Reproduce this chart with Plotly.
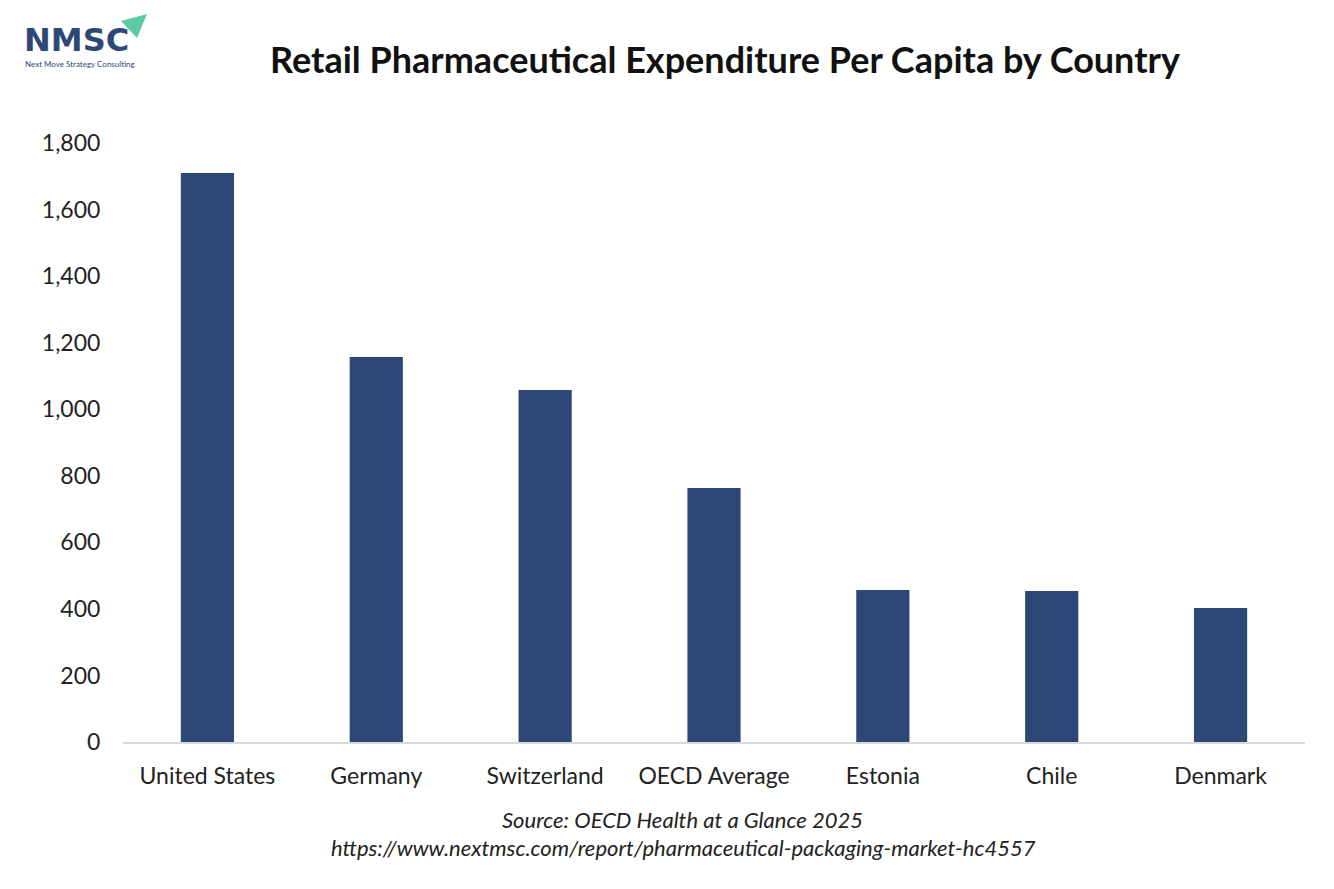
import plotly.graph_objects as go

countries = ["United States", "Germany", "Switzerland", "OECD Average", "Estonia", "Chile", "Denmark"]
spend = [1710, 1157, 1058, 763, 457, 454, 403]
y_ticks = [0, 200, 400, 600, 800, 1000, 1200, 1400, 1600, 1800]
y_labels = ["0", "200", "400", "600", "800", "1,000", "1,200", "1,400", "1,600", "1,800"]

bar_color = "#2D4877"
font = "Lato, 'Open Sans', sans-serif"

# page has an 8px body margin, so the figure is a bit smaller than the window
W, H = 1318, 873
PL, PT, PW, PH = 123, 143, 1182, 599


def px(x):
    return (x - PL) / PW


def py(y):
    return (PT + PH - y) / PH


fig = go.Figure()
fig.add_trace(go.Bar(x=countries, y=spend, marker_color=bar_color, marker_line_width=0))

fig.update_layout(
    width=W, height=H,
    margin=dict(l=115, r=21, t=135, b=139),
    paper_bgcolor="white", plot_bgcolor="white",
    bargap=0.685,
    showlegend=False,
    font=dict(family=font, color="#222222", size=23),
    title=dict(text="<b>Retail Pharmaceutical Expenditure Per Capita by Country</b>",
               xref="container", yref="container", x=(725 - 8) / W, y=1 - (60 - 8) / H,
               xanchor="center", yanchor="middle",
               font=dict(size=36, color="#111111", family=font)),
)
fig.update_yaxes(range=[0, 1800], tickvals=y_ticks, ticktext=y_labels,
                 showgrid=False, zeroline=False, showline=False,
                 ticks="outside", ticklen=17, tickcolor="white",
                 tickfont=dict(size=23, color="#222222"))
fig.update_xaxes(showgrid=False, showline=True, linecolor="#D9D9D9", linewidth=2,
                 ticks="outside", ticklen=12, tickcolor="white",
                 tickfont=dict(size=23, color="#222222"))

fig.add_annotation(text="<i>Source: OECD Health at a Glance 2025</i>",
                   xref="paper", yref="paper", x=px(682), y=py(819), showarrow=False,
                   xanchor="center", yanchor="middle", font=dict(size=22, color="#222222"))
fig.add_annotation(text="<i>https://www.nextmsc.com/report/pharmaceutical-packaging-market-hc4557</i>",
                   xref="paper", yref="paper", x=px(683), y=py(847), showarrow=False,
                   xanchor="center", yanchor="middle", font=dict(size=22, color="#222222"))

# logo
fig.add_annotation(text="<b>NMSC</b>", xref="paper", yref="paper",
                   x=px(22), y=py(40), xanchor="left", yanchor="middle",
                   showarrow=False, font=dict(size=32, color="#2D4877", family="'DejaVu Sans', sans-serif"))
fig.add_annotation(text="Next Move Strategy Consulting", xref="paper", yref="paper",
                   x=px(23), y=py(64), xanchor="left", yanchor="middle",
                   showarrow=False, font=dict(size=8, color="#2D4877", family=font))
fig.add_shape(type="path", xref="paper", yref="paper",
              path="M {} {} L {} {} L {} {} Z".format(px(147), py(14), px(121), py(21), px(137), py(38)),
              fillcolor="#5CC9A7", line_width=0)

fig.write_html("out.html")
